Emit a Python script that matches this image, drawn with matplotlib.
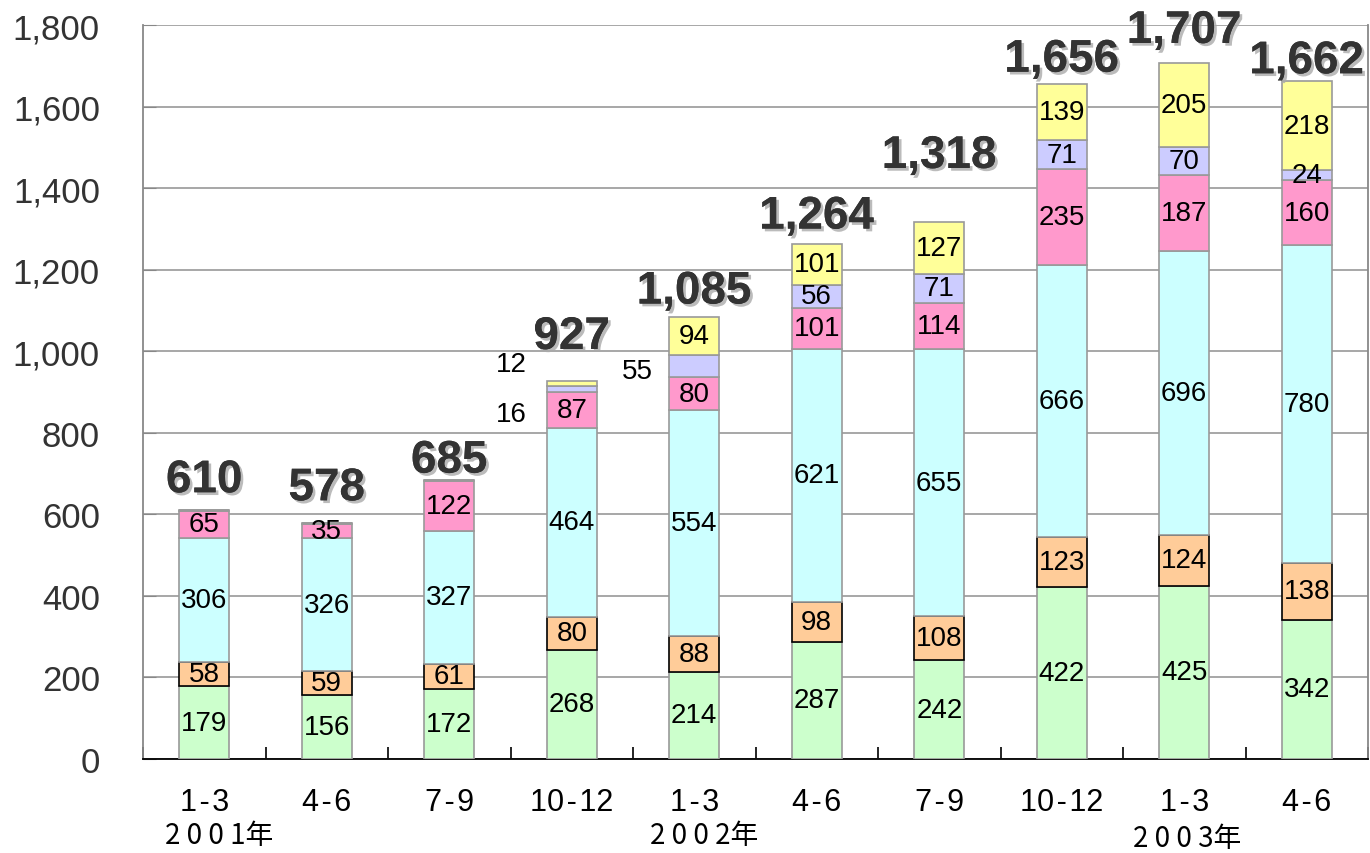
import matplotlib
matplotlib.use('Agg')
import matplotlib.pyplot as plt
import matplotlib.patheffects as pe
import numpy as np

plt.rcParams['font.family'] = ['Liberation Sans', 'DejaVu Sans']

# data (quarters, stacked segments bottom -> top)
quarters = ['1-3', '4-6', '7-9', '10-12', '1-3', '4-6', '7-9', '10-12', '1-3', '4-6']
years = ['2001年', '2002年', '2003年']
green = [179, 156, 172, 268, 214, 287, 242, 422, 425, 342]
orange = [58, 59, 61, 80, 88, 98, 108, 123, 124, 138]
cyan = [306, 326, 327, 464, 554, 621, 655, 666, 696, 780]
pink = [65, 35, 122, 87, 80, 101, 114, 235, 187, 160]
lavender = [2, 2, 3, 16, 55, 56, 71, 71, 70, 24]
yellow = [0, 0, 0, 12, 94, 101, 127, 139, 205, 218]
totals = [610, 578, 685, 927, 1085, 1264, 1318, 1656, 1707, 1662]

series = [green, orange, cyan, pink, lavender, yellow]
colors = ['#CCFFCC', '#FFCC99', '#CCFFFF', '#FF99CC', '#CCCCFF', '#FFFF99']
edges = ['#999999', '#000000', '#999999', '#999999', '#999999', '#999999']

# label layout
total_lift = [30, 35, 19, 44, 25, 27, 66, 24, 32, 20]   # px above bar top
side_labels = {(4, 3): (-60, -25), (5, 3): (-60, 19), (4, 4): (-57, -5)}  # (series, bar): px offset
year_pos = [(0.12, 76), (4.08, 76), (8.02, 79)]

fig = plt.figure(figsize=(13.7, 8.54), dpi=100)
ax = fig.add_axes([143/1370, 94/854, 1225/1370, 734/854])

x = np.arange(len(quarters))
bottom = np.zeros(len(quarters))
for si, (vals, c, ec) in enumerate(zip(series, colors, edges)):
    vals = np.array(vals, dtype=float)
    ax.bar(x, vals, bottom=bottom, width=0.41, color=c, edgecolor=ec, linewidth=1.2, zorder=3)
    for i, v in enumerate(vals):
        if v < 10:
            continue
        cy = bottom[i] + v / 2
        if (si, i) in side_labels:
            dx, dy = side_labels[(si, i)]
            ax.annotate(str(int(v)), (x[i], cy), xytext=(dx, dy), textcoords='offset pixels',
                        ha='center', va='center', fontsize=20, color='black', zorder=5)
        else:
            ax.text(x[i], cy, str(int(v)), ha='center', va='center', fontsize=20,
                    color='black', zorder=5)
    bottom += vals

tops = bottom
for i, t in enumerate(totals):
    ax.annotate(f'{t:,}', (x[i], tops[i]), xytext=(0, total_lift[i]), textcoords='offset pixels',
                ha='center', va='center', fontsize=33, fontweight='bold', color='#333333',
                zorder=6, annotation_clip=False,
                path_effects=[pe.withSimplePatchShadow(offset=(2, -2), shadow_rgbFace='#aaaaaa', alpha=0.8),
                              pe.Normal()])

ax.set_xlim(-0.5, len(quarters) - 0.5)
ax.set_ylim(0, 1800)
ax.set_yticks(np.arange(0, 1801, 200))
ax.set_yticklabels([f'{v:,}' for v in range(0, 1801, 200)], fontsize=25, color='#333333')
ax.yaxis.grid(True, color='#a0a0a0', linewidth=1.3, zorder=0)
ax.tick_params(axis='y', direction='in', length=9, color='#888888', pad=31)

ax.set_xticks(x)
ax.set_xticklabels([q.replace('-', '\u200a-\u200a') for q in quarters], fontsize=22, color='black')
ax.set_xticks(np.arange(-0.5, len(quarters)), minor=True)
ax.tick_params(axis='x', which='major', length=0, pad=20)
ax.tick_params(axis='x', which='minor', direction='in', length=9, color='black', width=1.2)

for (xp, dy), yr in zip(year_pos, years):
    label = ' '.join(yr[:-1]) + yr[-1]
    ax.annotate(label, (xp, 0), xytext=(0, -dy), textcoords='offset pixels',
                ha='center', va='center', fontsize=20, color='black',
                family=['Noto Sans CJK JP', 'DejaVu Sans'], annotation_clip=False)

for s in ['left', 'right', 'top']:
    ax.spines[s].set_color('#888888')
    ax.spines[s].set_linewidth(1.3)
ax.spines['top'].set_visible(False)
ax.spines['bottom'].set_color('black')
ax.spines['bottom'].set_linewidth(1.3)

fig.savefig('out.png', dpi=100)
